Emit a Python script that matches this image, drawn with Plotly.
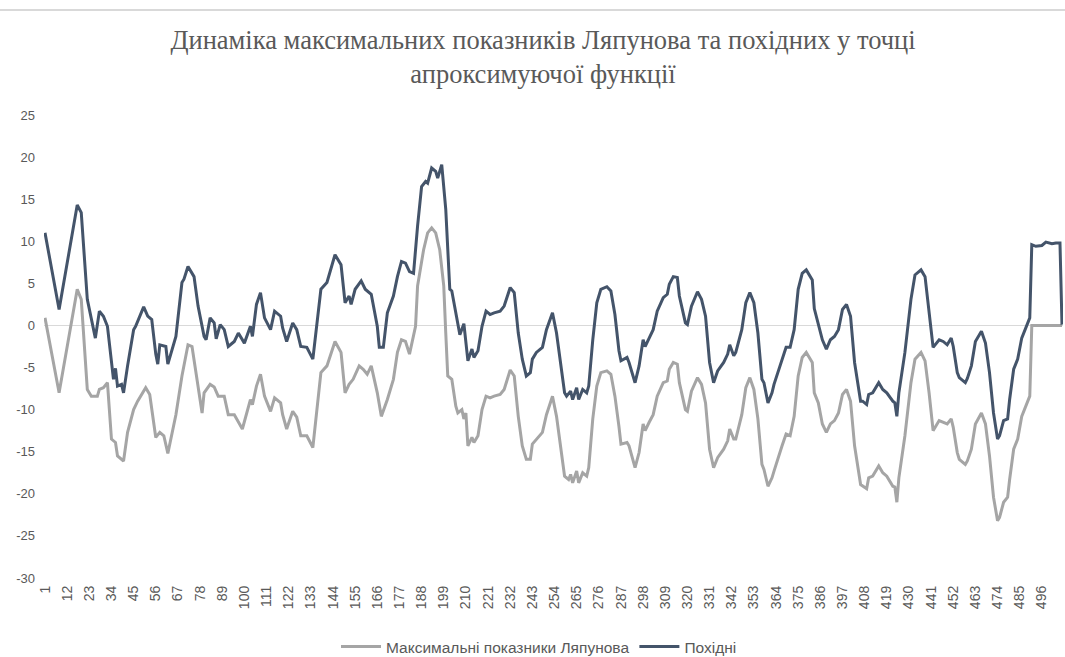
import plotly.graph_objects as go

# ---- data ----
lyap_x = [1, 8, 17, 19, 22, 24, 27, 28, 30, 32, 34, 36, 37, 40, 42, 45, 47, 51, 53, 56, 58, 60, 62, 64, 66, 69, 72, 74, 76, 79,
          80, 83, 85, 87, 90, 92, 95, 99, 103, 104, 106, 108, 110, 113, 115, 118, 119, 121, 124, 126, 128, 131, 134, 136, 138, 141, 145, 148, 150, 152,
          154, 157, 159, 161, 163, 166, 168, 171, 174, 176, 178, 180, 182, 185, 186, 189, 191, 193, 195, 197, 199, 200, 201, 203, 205, 206, 208, 209, 210, 211,
          213, 214, 216, 218, 220, 222, 224, 227, 229, 232, 234, 236, 238, 240, 242, 243, 245, 248, 250, 253, 255, 257, 259, 261, 262, 263, 265, 266, 268, 270,
          271, 273, 275, 277, 280, 282, 284, 286, 287, 290, 291, 294, 296, 298, 299, 301, 303, 305, 308, 310, 311, 313, 315, 316, 319, 320, 322, 325, 327, 329,
          331, 333, 335, 338, 340, 341, 343, 344, 347, 349, 351, 353, 355, 357, 358, 360, 362, 363, 365, 367, 369, 371, 373, 375, 377, 379, 382, 383, 385, 387,
          389, 391, 393, 395, 397, 399, 401, 403, 406, 407, 409, 410, 412, 415, 417, 419, 422, 423, 424, 425, 428, 431, 433, 436, 438, 440, 442, 445, 447, 449,
          451, 452, 454, 455, 458, 459, 461, 463, 466, 468, 470, 472, 474, 475, 477, 479, 480, 482, 484, 486, 490, 491, 506]
lyap_y = [0.9, -8.0, 4.3, 3.1, -7.6, -8.4, -8.4, -7.6, -7.4, -6.8, -13.5, -13.9, -15.5, -16.1, -12.7, -10.0, -9.0, -7.4, -8.2, -13.3, -12.7, -13.1, -15.2, -12.9, -10.6, -6.0, -2.3, -2.5, -5.6, -10.4,
          -8.0, -7.0, -7.3, -8.4, -8.4, -10.6, -10.6, -12.3, -8.8, -9.4, -7.2, -5.8, -8.4, -10.2, -8.6, -9.2, -10.6, -12.3, -10.2, -10.9, -13.1, -13.1, -14.5, -10.4, -5.6, -4.8, -1.9, -3.2, -8.0, -7.0,
          -6.4, -4.8, -5.2, -5.8, -4.8, -8.0, -10.8, -8.8, -6.4, -3.2, -1.7, -1.9, -3.4, -0.1, 4.7, 9.0, 11.0, 11.6, 11.0, 9.0, 4.7, -0.9, -6.0, -6.4, -9.6, -10.4, -10.0, -11.1, -10.4, -14.3,
          -13.3, -13.9, -13.1, -10.0, -8.4, -8.6, -8.4, -8.2, -7.6, -5.3, -6.0, -10.8, -14.3, -15.9, -15.9, -14.1, -13.5, -12.7, -10.6, -8.4, -10.8, -14.3, -17.9, -18.3, -17.7, -18.7, -17.3, -18.7, -17.5, -17.9,
          -16.9, -11.1, -7.2, -5.6, -5.4, -5.8, -8.4, -12.0, -14.1, -13.9, -14.3, -16.9, -15.1, -11.7, -12.5, -11.5, -10.6, -8.4, -6.8, -6.6, -5.2, -4.4, -4.6, -6.8, -10.0, -10.2, -7.8, -6.2, -7.0, -9.2,
          -14.7, -16.9, -15.7, -14.7, -13.7, -12.3, -13.5, -13.5, -10.6, -7.4, -6.2, -7.6, -11.1, -16.5, -17.1, -19.1, -18.1, -17.3, -15.7, -14.3, -12.9, -13.1, -10.8, -6.0, -3.8, -3.2, -4.4, -8.0, -9.2, -11.7,
          -12.7, -11.7, -11.3, -10.4, -8.2, -7.6, -9.0, -14.3, -18.9, -19.1, -19.4, -18.1, -17.9, -16.7, -17.5, -17.9, -19.1, -19.2, -21.0, -18.1, -13.1, -6.8, -4.0, -3.2, -4.2, -8.0, -12.5, -11.3, -11.5, -11.7,
          -11.1, -12.1, -15.1, -15.9, -16.5, -16.1, -14.7, -11.7, -10.4, -11.7, -15.5, -20.4, -23.2, -22.8, -21.0, -20.4, -18.3, -14.7, -13.5, -10.8, -8.4, 0.0, 0.0]

deriv_x = [1, 8, 17, 19, 22, 24, 26, 28, 30, 32, 34, 35, 36, 37, 39, 40, 42, 45, 46, 50, 52, 54, 56, 57, 58, 61, 62, 64, 66, 69,
           70, 72, 75, 77, 80, 81, 83, 85, 86, 88, 90, 92, 95, 97, 100, 103, 104, 106, 108, 110, 113, 115, 118, 119, 121, 124, 126, 128, 131, 134,
           136, 138, 141, 145, 148, 150, 152, 153, 155, 158, 160, 163, 166, 167, 169, 171, 174, 176, 178, 180, 182, 184, 186, 188, 190, 191, 193, 195, 196, 198,
           200, 202, 203, 205, 206, 207, 209, 210, 211, 213, 214, 216, 218, 220, 222, 224, 227, 229, 232, 234, 236, 238, 240, 242, 243, 245, 248, 250, 253, 255,
           257, 259, 260, 262, 263, 265, 266, 268, 270, 271, 273, 275, 277, 280, 282, 284, 286, 287, 290, 291, 294, 296, 298, 299, 301, 303, 305, 308, 310, 311,
           313, 315, 316, 319, 320, 322, 325, 327, 329, 331, 333, 335, 338, 340, 341, 343, 344, 347, 349, 351, 353, 355, 357, 358, 360, 362, 363, 365, 367, 369,
           371, 373, 375, 377, 379, 382, 383, 385, 387, 389, 391, 393, 395, 397, 399, 401, 403, 406, 407, 409, 410, 412, 415, 417, 419, 422, 423, 424, 425, 428,
           431, 433, 436, 438, 440, 442, 445, 447, 449, 451, 452, 454, 455, 458, 459, 461, 463, 466, 468, 470, 472, 474, 475, 477, 479, 480, 482, 484, 486, 490,
           491, 493, 496, 498, 501, 503, 505, 506]
deriv_y = [11.0, 1.9, 14.3, 13.4, 3.1, 0.9, -1.5, 1.7, 1.1, -0.1, -4.8, -6.4, -5.1, -7.2, -7.0, -8.0, -4.8, -0.5, -0.1, 2.2, 1.1, 0.7, -3.4, -4.6, -2.3, -2.5, -4.6, -2.8, -1.3, 5.1,
           5.5, 7.0, 5.8, 2.3, -1.3, -1.7, 0.9, 0.3, -1.6, 0.1, -0.5, -2.5, -1.9, -0.9, -2.1, -0.1, -1.3, 2.5, 3.9, 0.9, -0.5, 1.7, 1.1, -0.3, -1.9, 0.3, -0.5, -2.5, -2.6, -4.0,
           -0.1, 4.3, 5.1, 8.4, 7.2, 2.7, 3.5, 2.5, 4.3, 5.3, 4.3, 3.7, -0.1, -2.6, -2.6, 1.5, 3.5, 5.8, 7.6, 7.4, 6.4, 6.2, 11.8, 16.5, 17.1, 16.9, 18.7, 18.3, 17.5, 19.1,
           13.8, 4.3, 4.1, 1.5, -0.1, -1.1, 0.2, -1.7, -4.2, -2.8, -3.8, -3.0, -0.1, 1.7, 1.3, 1.5, 1.7, 2.3, 4.5, 3.9, -0.9, -4.0, -6.0, -5.6, -4.0, -3.2, -2.6, -0.5, 1.5, -0.9,
           -4.4, -8.0, -8.4, -7.8, -8.8, -7.4, -8.8, -7.6, -8.0, -7.2, -1.7, 2.7, 4.3, 4.6, 4.1, 1.3, -3.0, -4.2, -3.8, -4.4, -6.8, -4.8, -1.7, -2.5, -1.5, -0.5, 1.7, 3.3, 3.7, 4.9,
           5.8, 5.7, 3.5, 0.3, 0.1, 2.3, 4.0, 3.1, 1.1, -4.4, -6.8, -5.4, -4.4, -3.4, -2.3, -3.6, -3.2, -0.5, 2.7, 3.9, 2.7, -0.9, -6.4, -6.8, -9.2, -8.0, -7.0, -5.6, -4.2, -2.6,
           -2.6, -0.5, 4.3, 6.2, 6.6, 5.4, 2.0, 0.3, -1.7, -2.8, -1.7, -1.3, -0.5, 1.9, 2.5, 1.1, -4.4, -9.0, -9.0, -9.4, -8.2, -8.0, -6.8, -7.6, -8.0, -9.0, -9.2, -10.8, -8.0, -3.2,
           3.1, 6.0, 6.6, 5.8, 1.9, -2.6, -1.7, -1.9, -2.3, -1.5, -2.5, -5.6, -6.2, -6.8, -6.3, -4.8, -1.9, -0.7, -2.1, -5.6, -10.4, -13.5, -13.1, -11.3, -11.1, -8.8, -5.2, -4.0, -1.5, 0.9,
           9.6, 9.4, 9.5, 9.9, 9.7, 9.8, 9.8, 0.1]

tick_vals = list(range(1, 497, 11))
tick_text = [str(v) for v in tick_vals]
y_ticks = [25, 20, 15, 10, 5, 0, -5, -10, -15, -20, -25, -30]
y_text = [str(v) for v in y_ticks]

name_lyap = "Максимальні показники Ляпунова"
name_deriv = "Похідні"
title_text = "Динаміка максимальних показників Ляпунова та похідних у точці<br>апроксимуючої функції"

W, H = 1065, 657
ML, MR, MT, MB = 44, 2, 115, 79

fig = go.Figure()
fig.add_trace(go.Scatter(x=lyap_x, y=lyap_y, mode="lines", name=name_lyap,
                         line=dict(color="#A5A5A5", width=3)))
fig.add_trace(go.Scatter(x=deriv_x, y=deriv_y, mode="lines", name=name_deriv,
                         line=dict(color="#44546A", width=3)))

pw = W - ML - MR
ph = H - MT - MB
line_y = 1 + (MT - 10) / ph
fig.add_shape(type="line", xref="paper", yref="paper",
              x0=-ML / pw, x1=(W - ML) / pw, y0=line_y, y1=line_y,
              line=dict(color="#D9D9D9", width=2))

sans_narrow = "Liberation Sans Narrow, Liberation Sans, Arial, sans-serif"
sans = "Liberation Sans, Arial, sans-serif"

fig.update_layout(
    width=W, height=H,
    margin=dict(l=ML, r=MR, t=MT, b=MB, autoexpand=False),
    paper_bgcolor="white", plot_bgcolor="white",
    title=dict(text=title_text, x=543 / W, xanchor="center", xref="container",
               y=1 - 49 / H, yanchor="top", yref="container",
               font=dict(family="Liberation Serif, Times New Roman, serif", size=26.5, color="#595959")),
    legend=dict(orientation="h", x=539 / W, xanchor="center", xref="container",
                y=(657 - 647) / H, yanchor="middle", yref="container",
                font=dict(family=sans, size=15.5, color="#595959"),
                itemwidth=40, tracegroupgap=0),
    showlegend=True,
    xaxis=dict(range=[0.5, 506.5], tickmode="array", tickvals=tick_vals, ticktext=tick_text,
               tickangle=-90, showgrid=False, zeroline=False, showline=False, ticks="",
               ticklabelstandoff=4,
               tickfont=dict(family=sans, size=14, color="#595959")),
    yaxis=dict(range=[-30, 25], tickmode="array", tickvals=y_ticks, ticktext=y_text, showgrid=False,
               zeroline=True, zerolinecolor="#D9D9D9", zerolinewidth=1, showline=False, ticks="",
               ticklabelstandoff=8,
               tickfont=dict(family=sans_narrow, size=13, color="#595959")),
)

# remove the default 8px page margin so the figure fills the window exactly
fig.write_html("out.html", config={"displayModeBar": False},
               post_script="document.body.style.margin='0';document.body.style.overflow='hidden';")
